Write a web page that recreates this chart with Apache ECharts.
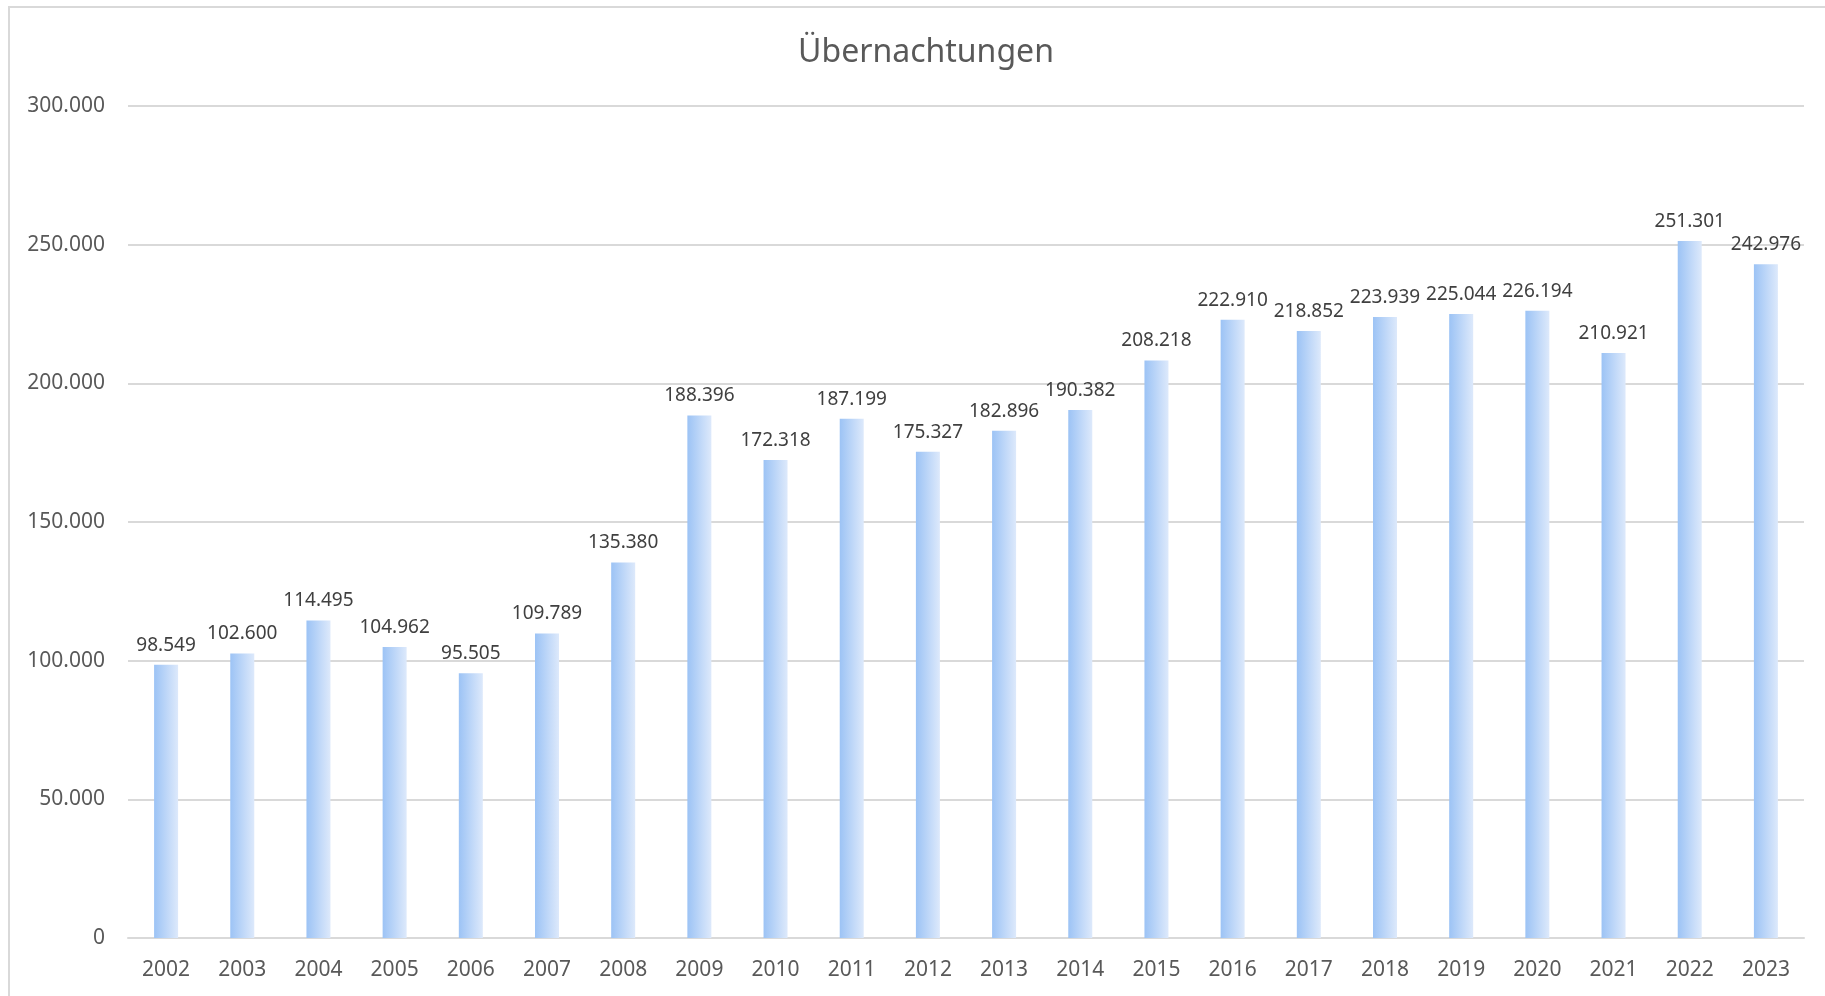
<!DOCTYPE html>
<html>
<head>
<meta charset="utf-8">
<script src="https://cdn.jsdelivr.net/npm/echarts@6/dist/echarts.min.js"></script>
<style>
  html, body { margin: 0; padding: 0; background: #fff; }
  #frame { position: absolute; left: 8px; top: 6px; width: 1830px; height: 1000px; border: 2px solid #d9d9d9; box-sizing: border-box; }
  #chart { position: absolute; left: 0; top: 0; width: 1825px; height: 996px; }
</style>
</head>
<body>
<div id="frame"></div>
<div id="chart"></div>
<script>
var years = ['2002', '2003', '2004', '2005', '2006', '2007', '2008', '2009', '2010', '2011', '2012',
             '2013', '2014', '2015', '2016', '2017', '2018', '2019', '2020', '2021', '2022', '2023'];
var naechte = [98549, 102600, 114495, 104962, 95505, 109789, 135380, 188396, 172318, 187199, 175327,
               182896, 190382, 208218, 222910, 218852, 223939, 225044, 226194, 210921, 251301, 242976];
var yTicks = [0, 50000, 100000, 150000, 200000, 250000, 300000];

// Tausenderpunkt wie im Original
function fmt(v) {
    return String(v).replace(/\B(?=(\d{3})+(?!\d))/g, '.');
}

var font = '"Noto Sans", "Open Sans", sans-serif';

option = {
    backgroundColor: 'transparent',
    animation: false,
    title: {
        text: 'Übernachtungen',
        left: 921,
        textAlign: 'center',
        top: 32,
        textStyle: {
            fontFamily: font,
            fontWeight: 'normal',
            fontSize: 32,
            color: '#595959'
        }
    },
    grid: {
        left: 128,
        right: 21,
        top: 106,
        bottom: 58
    },
    xAxis: {
        type: 'category',
        data: years,
        axisLine: { lineStyle: { color: '#d9d9d9', width: 2 } },
        axisTick: { show: false },
        axisLabel: {
            margin: 22,
            fontFamily: font,
            fontSize: 21,
            color: '#595959'
        }
    },
    yAxis: {
        type: 'value',
        min: yTicks[0],
        max: yTicks[yTicks.length - 1],
        interval: 50000,
        axisLine: { show: false },
        axisTick: { show: false },
        splitLine: { lineStyle: { color: '#d9d9d9', width: 2 } },
        axisLabel: {
            margin: 23,
            fontFamily: font,
            fontSize: 21,
            color: '#595959',
            formatter: function (v) { return fmt(v); }
        }
    },
    series: [{
        type: 'bar',
        data: naechte,
        barWidth: 24,
        itemStyle: {
            color: {
                type: 'linear', x: 0, y: 0, x2: 1, y2: 0,
                colorStops: [
                    { offset: 0, color: '#9cc3f5' },
                    { offset: 1, color: '#dde9fb' }
                ]
            }
        },
        label: {
            show: true,
            position: 'top',
            distance: 10,
            fontFamily: font,
            fontSize: 19,
            color: '#404040',
            formatter: function (p) { return fmt(p.value); }
        }
    }]
};

echarts.init(document.getElementById('chart')).setOption(option);
</script>
</body>
</html>
